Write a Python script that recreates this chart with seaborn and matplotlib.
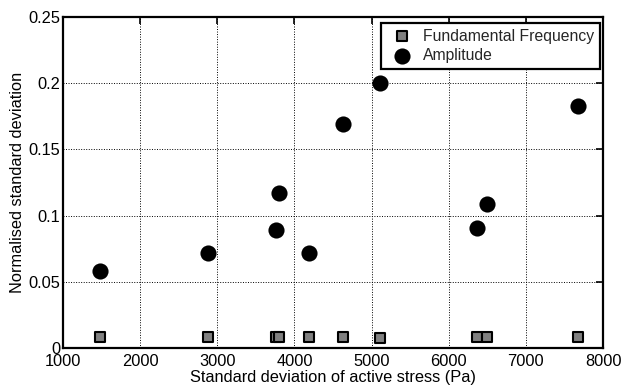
import matplotlib
matplotlib.use("Agg")
import matplotlib.pyplot as plt
import seaborn as sns
import pandas as pd

# Standard deviation of active stress (Pa) for each test case
stress_sd = [1480, 2880, 3762, 3800, 4195, 4628, 5105, 6366, 6495, 7675]
# Normalised standard deviation of fundamental frequency
freq_sd = [0.008, 0.008, 0.008, 0.008, 0.008, 0.008, 0.0075, 0.008, 0.008, 0.008]
# Normalised standard deviation of amplitude
amp_sd = [0.058, 0.072, 0.089, 0.117, 0.072, 0.169, 0.200, 0.091, 0.109, 0.183]

series_names = ["Fundamental Frequency", "Amplitude"]

df = pd.concat([
    pd.DataFrame({"stress": stress_sd, "value": freq_sd, "series": series_names[0]}),
    pd.DataFrame({"stress": stress_sd, "value": amp_sd, "series": series_names[1]}),
])

sns.set_theme(style="white")
plt.rcParams["font.family"] = ["Liberation Sans", "DejaVu Sans"]

fig = plt.figure(figsize=(6.23, 3.89), dpi=100)
ax = fig.add_axes([0.1011, 0.1054, 0.8669, 0.8506])

sns.scatterplot(
    data=df[df.series == series_names[0]], x="stress", y="value",
    marker="s", s=58, color="#808080", edgecolor="black", linewidth=1.5,
    label=series_names[0], ax=ax, zorder=3,
)
sns.scatterplot(
    data=df[df.series == series_names[1]], x="stress", y="value",
    marker="o", s=135, color="black", edgecolor="black", linewidth=0,
    label=series_names[1], ax=ax, zorder=3,
)

ax.set_xlim(1000, 8000)
ax.set_ylim(0, 0.25)
ax.set_xticks(range(1000, 8001, 1000))
ax.set_yticks([0, 0.05, 0.1, 0.15, 0.2, 0.25])
ax.set_yticklabels(["0", "0.05", "0.1", "0.15", "0.2", "0.25"])

ax.grid(True, color="black", linestyle=(0, (1, 1.6)), linewidth=0.7)
ax.set_axisbelow(True)
for sp in ax.spines.values():
    sp.set_color("black")
    sp.set_linewidth(1.6)
ax.tick_params(direction="in", length=5, width=1.2, colors="black",
               labelsize=11.8, top=True, right=True, pad=2)
ax.tick_params(axis="x", pad=4)

ax.set_xlabel("Standard deviation of active stress (Pa)", fontsize=11.8, labelpad=1, color="black")
ax.set_ylabel("Normalised standard deviation", fontsize=11.8, labelpad=2, color="black")

leg = ax.legend(loc="upper right", bbox_to_anchor=(0.9944, 0.982), frameon=True,
                fancybox=False, fontsize=11.3, borderpad=0.35, handletextpad=0.35,
                labelspacing=0.3, handlelength=2.0, borderaxespad=0.0,
                markerscale=1.0)
leg.get_frame().set_edgecolor("black")
leg.get_frame().set_linewidth(1.6)
leg.get_frame().set_alpha(1)

fig.savefig("out.png", dpi=100)
